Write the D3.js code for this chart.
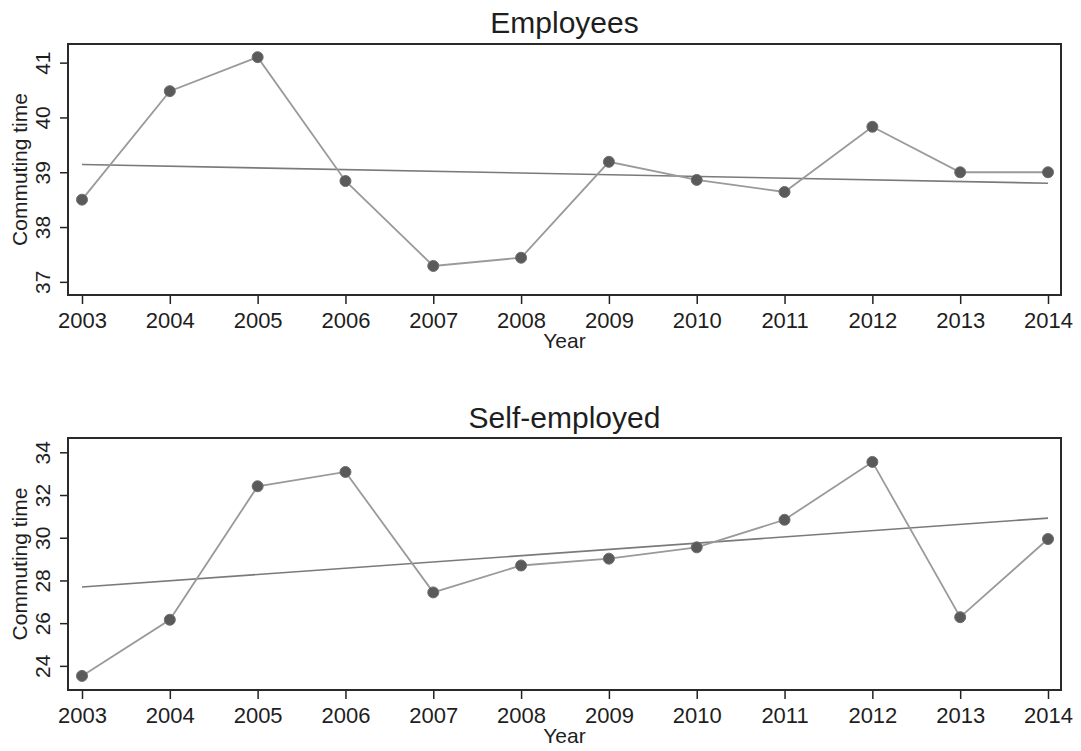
<!DOCTYPE html>
<html>
<head>
<meta charset="utf-8">
<script src="https://cdn.jsdelivr.net/npm/d3@7"></script>
<style>
  body { margin: 0; background: #fff; }
  text { font-family: Arial, "Liberation Sans", Helvetica, sans-serif; fill: #1e1e1e; }
</style>
</head>
<body>
<div id="chart"></div>
<script>
const years = [2003, 2004, 2005, 2006, 2007, 2008, 2009, 2010, 2011, 2012, 2013, 2014];
const employees = [38.50, 40.48, 41.10, 38.84, 37.29, 37.44, 39.19, 38.86, 38.64, 39.83, 39.00, 39.00];
const selfEmployed = [23.53, 26.16, 32.41, 33.08, 27.44, 28.70, 29.02, 29.55, 30.84, 33.55, 26.28, 29.94];
// fitted line, read at the first and last year
const employeesTrend = [39.14, 38.80];
const selfEmployedTrend = [27.69, 30.92];
const employeesTicks = [37, 38, 39, 40, 41];
const selfEmployedTicks = [24, 26, 28, 30, 32, 34];

const width = 1081, height = 751;
const left = 68, right = 1061;

const svg = d3.select("#chart").append("svg")
    .attr("width", width)
    .attr("height", height);

const x = d3.scaleLinear()
    .domain([2003, 2014])
    .range([82, 1048]);

const panels = [
    { title: "Employees", values: employees, trend: employeesTrend, ticks: employeesTicks,
      domain: [36.76, 41.34], top: 44, bottom: 295, titleY: 33 },
    { title: "Self-employed", values: selfEmployed, trend: selfEmployedTrend, ticks: selfEmployedTicks,
      domain: [22.87, 34.67], top: 438, bottom: 690, titleY: 428 }
];

panels.forEach(function(p) {
    const y = d3.scaleLinear()
        .domain(p.domain)
        .range([p.bottom, p.top]);

    const g = svg.append("g");

    // x axis
    const xAxis = g.append("g")
        .attr("transform", "translate(0," + p.bottom + ")")
        .call(d3.axisBottom(x).tickValues(years).tickFormat(d3.format("d")).tickSize(9));
    xAxis.select(".domain").remove();
    xAxis.selectAll(".tick line").attr("stroke", "#222").attr("stroke-width", 1.5);
    xAxis.selectAll(".tick text")
        .attr("y", 33).attr("dy", 0)
        .style("font-size", "22px")
        .attr("fill", "#1e1e1e");

    // y axis, labels rotated
    const yAxis = g.append("g")
        .attr("transform", "translate(" + left + ",0)")
        .call(d3.axisLeft(y).tickValues(p.ticks).tickFormat(d3.format("d")).tickSize(8));
    yAxis.select(".domain").remove();
    yAxis.selectAll(".tick line").attr("stroke", "#222").attr("stroke-width", 1.5);
    yAxis.selectAll(".tick text")
        .attr("transform", "rotate(-90)")
        .attr("x", 0).attr("y", -18).attr("dy", 0)
        .attr("text-anchor", "middle")
        .style("font-size", "21px")
        .attr("fill", "#1e1e1e");

    // frame
    g.append("rect")
        .attr("x", left)
        .attr("y", p.top)
        .attr("width", right - left)
        .attr("height", p.bottom - p.top)
        .attr("fill", "none")
        .attr("stroke", "#2a2a2a")
        .attr("stroke-width", 2);

    // trend line
    g.append("line")
        .attr("x1", x(years[0]))
        .attr("x2", x(years[years.length - 1]))
        .attr("y1", y(p.trend[0]))
        .attr("y2", y(p.trend[1]))
        .attr("stroke", "#7a7a7a")
        .attr("stroke-width", 1.6);

    // data line
    const line = d3.line()
        .x(function(d, i) { return x(years[i]); })
        .y(function(d) { return y(d); });

    g.append("path")
        .datum(p.values)
        .attr("d", line)
        .attr("fill", "none")
        .attr("stroke", "#9a9a9a")
        .attr("stroke-width", 1.8);

    g.selectAll(".dot")
        .data(p.values)
        .enter().append("circle")
        .attr("class", "dot")
        .attr("cx", function(d, i) { return x(years[i]); })
        .attr("cy", function(d) { return y(d); })
        .attr("r", 5.5)
        .attr("fill", "#5a5a5a")
        .attr("stroke", "#6e6e6e")
        .attr("stroke-width", 1);

    // titles
    g.append("text")
        .attr("x", (left + right) / 2)
        .attr("y", p.titleY)
        .attr("text-anchor", "middle")
        .style("font-size", "30px")
        .text(p.title);

    g.append("text")
        .attr("x", (left + right) / 2)
        .attr("y", p.bottom + 53)
        .attr("text-anchor", "middle")
        .style("font-size", "21px")
        .text("Year");

    g.append("text")
        .attr("transform", "translate(27," + (p.top + p.bottom) / 2 + ") rotate(-90)")
        .attr("text-anchor", "middle")
        .style("font-size", "21px")
        .text("Commuting time");
});
</script>
</body>
</html>
